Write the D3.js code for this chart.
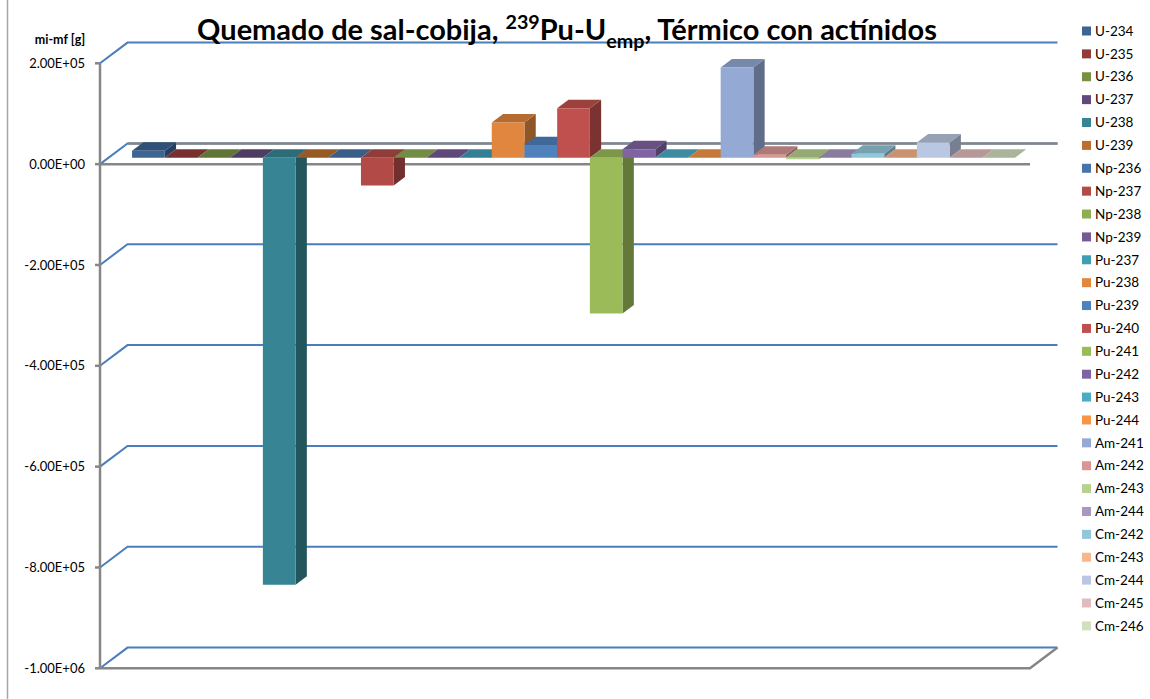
<!DOCTYPE html>
<html>
<head>
<meta charset="utf-8">
<script src="https://cdn.jsdelivr.net/npm/d3@7"></script>
<style>
  html, body { margin: 0; padding: 0; background: #fff; }
  svg { display: block; }
</style>
</head>
<body>
<svg id="chart" width="1150" height="699"></svg>
<script>
// Isotopes (one series each) and net mass change mi - mf in grams
const isotopes = [
  "U-234", "U-235", "U-236", "U-237", "U-238", "U-239",
  "Np-236", "Np-237", "Np-238", "Np-239",
  "Pu-237", "Pu-238", "Pu-239", "Pu-240", "Pu-241", "Pu-242", "Pu-243", "Pu-244",
  "Am-241", "Am-242", "Am-243", "Am-244",
  "Cm-242", "Cm-243", "Cm-244", "Cm-245", "Cm-246"
];
const massChange = [
  1.4e4, 0, 0, 0, -8.47e5, 0,
  0, -5.5e4, 0, 0,
  0, 7.0e4, 2.5e4, 9.8e4, -3.09e5, 1.7e4, 0, 0,
  1.79e5, 6.0e3, -3.0e3, 0,
  8.0e3, 0, 3.0e4, 0, 0
];
const seriesColors = [
  "#3c6494", "#943c3a", "#779143", "#604a7b", "#378495", "#bb6f2e",
  "#4674ab", "#b24a47", "#8fae53", "#765997",
  "#3f9db6", "#e0863e", "#4f81bd", "#c0504d", "#9bbb59", "#8064a2", "#4bacc6", "#f79646",
  "#94aad4", "#d99694", "#b9d190", "#a898c0",
  "#92c7da", "#f9b68c", "#bac7e2", "#e2bcbc", "#d2dfbe"
];
const yTicks = [2e5, 0, -2e5, -4e5, -6e5, -8e5, -1e6];
const yTickLabels = ["2.00E+05", "0.00E+00", "-2.00E+05", "-4.00E+05", "-6.00E+05", "-8.00E+05", "-1.00E+06"];
const yAxisTitle = "mi-mf [g]";

const FONT = "Lato, 'Open Sans', 'Liberation Sans', sans-serif";
const svg = d3.select("#chart");

// Plot box on the front plane and the oblique depth of the 3-D walls
const frontLeft = 100, frontRight = 1030;
const depthDX = 27.5, depthDY = -20.7;
const barFront = 0.31, barBack = 0.72;   // depth fraction occupied by the columns

const y = d3.scaleLinear().domain([-1e6, 2e5]).range([668.3, 63.3]);
const x = d3.scaleBand().domain(isotopes).range([frontLeft, frontRight])
  .paddingInner(0).paddingOuter(0.72);

// project (front-plane x, value, depth fraction) onto the page
const P = (px, v, d) => [px + d * depthDX, y(v) + d * depthDY];
const poly = pts => "M" + pts.map(p => p[0].toFixed(2) + "," + p[1].toFixed(2)).join("L") + "Z";
const line = pts => "M" + pts.map(p => p[0].toFixed(2) + "," + p[1].toFixed(2)).join("L");

// outer chart frame edge
svg.append("line").attr("x1", 7.5).attr("x2", 7.5).attr("y1", 0).attr("y2", 699)
  .attr("stroke", "#a6a6a6").attr("stroke-width", 1.5);

// back-wall gridlines with their oblique run along the side wall
const grid = svg.append("g").attr("fill", "none").attr("stroke", "#4a7ebb").attr("stroke-width", 2);
yTicks.forEach(t => {
  grid.append("path").attr("d", line([P(frontLeft, t, 0), P(frontLeft, t, 1), P(frontRight, t, 1)]));
});

// axis lines
const axisG = svg.append("g").attr("fill", "none").attr("stroke", "#868686").attr("stroke-width", 2.5);
axisG.append("path").attr("d", line([P(frontLeft, 0, 1), P(frontRight, 0, 1)]));
axisG.append("path").attr("d", line([P(frontLeft, 2e5, 0), P(frontLeft, -1e6, 0)]));
axisG.append("path").attr("d", line([P(frontLeft, 0, 0), P(frontRight, 0, 0)]));
axisG.append("path").attr("d", line([P(frontLeft, -1e6, 0), P(frontRight, -1e6, 0), P(frontRight, -1e6, 1)]));
yTicks.forEach(t => {
  axisG.append("path").attr("d", line([[frontLeft - 5, y(t)], [frontLeft, y(t)]]));
});

// tick labels
svg.append("g").selectAll("text").data(yTicks).join("text")
  .attr("x", 85).attr("y", d => y(d)).attr("dy", "0.35em")
  .attr("text-anchor", "end")
  .attr("font-family", FONT).attr("font-size", 13).attr("fill", "#000")
  .text((d, i) => yTickLabels[i]);

svg.append("text").attr("x", 60).attr("y", 39.5).attr("dy", "0.35em")
  .attr("text-anchor", "middle")
  .attr("font-family", FONT).attr("font-size", 12.5).attr("font-weight", "bold")
  .text(yAxisTitle);

// 3-D columns, drawn left to right so each front face hides its neighbour's side
const bars = svg.append("g");
const bw = x.bandwidth();
isotopes.forEach((name, i) => {
  const v = massChange[i];
  const base = d3.color(seriesColors[i]);
  const x0 = x(name), x1 = x0 + bw;
  const vt = Math.max(v, 0), vb = Math.min(v, 0);
  const g = bars.append("g");
  g.append("path")
    .attr("d", poly([P(x1, vt, barFront), P(x1, vb, barFront), P(x1, vb, barBack), P(x1, vt, barBack)]))
    .attr("fill", base.darker(1.25));
  g.append("path")
    .attr("d", poly([P(x0, vt, barFront), P(x1, vt, barFront), P(x1, vt, barBack), P(x0, vt, barBack)]))
    .attr("fill", base.darker(0.6));
  if (v !== 0) {
    g.append("path")
      .attr("d", poly([P(x0, vt, barFront), P(x1, vt, barFront), P(x1, vb, barFront), P(x0, vb, barFront)]))
      .attr("fill", base);
  }
});

// title with superscript mass number and subscript
const title = svg.append("text")
  .attr("x", 0).attr("y", 40)
  .attr("font-family", FONT).attr("font-weight", "bold").attr("font-size", 26).attr("fill", "#000");
title.append("tspan").text("Quemado de sal-cobija, ");
title.append("tspan").attr("font-size", "0.68em").attr("dy", -10).text("239");
title.append("tspan").attr("dy", 10).text("Pu-U");
title.append("tspan").attr("font-size", "0.68em").attr("dy", 7).text("emp");
title.append("tspan").attr("dy", -7).text(", Térmico con actínidos");
{
  const w = title.node().getComputedTextLength();
  const target = 740;
  const fs = 26 * target / w;
  title.attr("font-size", fs);
  title.selectAll("tspan").each(function () {
    const dy = d3.select(this).attr("dy");
    if (dy !== null) d3.select(this).attr("dy", +dy * fs / 26);
  });
  const w2 = title.node().getComputedTextLength();
  title.attr("x", 567 - w2 / 2);
}

// legend
const legend = svg.append("g");
isotopes.forEach((name, i) => {
  const cy = 31 + i * 22.88;
  legend.append("rect").attr("x", 1082).attr("y", cy - 4.5).attr("width", 9).attr("height", 9)
    .attr("fill", seriesColors[i]);
  legend.append("text").attr("x", 1095).attr("y", cy).attr("dy", "0.35em")
    .attr("font-family", FONT).attr("font-size", 13.5).attr("fill", "#000").text(name);
});
</script>
</body>
</html>
